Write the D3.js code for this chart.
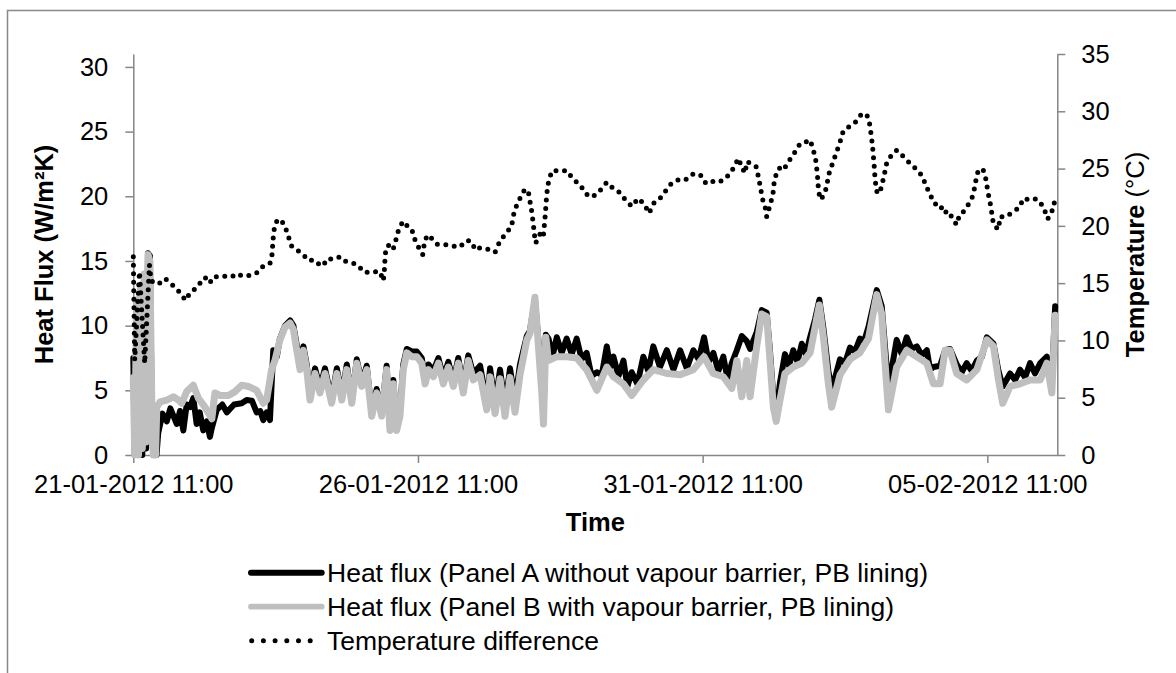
<!DOCTYPE html>
<html>
<head>
<meta charset="utf-8">
<script src="https://d3js.org/d3.v7.min.js"></script>
<style>
	body { margin: 0; background: #fff; }
	svg text { font-family: "Liberation Sans", Arial, sans-serif; fill: #000; }
</style>
</head>
<body>
<svg id="chart" width="1176" height="673"></svg>
<script>
// hours since 21-01-2012 11:00, value
const fluxPanelA = [
	[0, 7.5], [0.6, 0], [1.4, 11], [2.2, 0], [3, 12], [3.8, 0], [4.6, 13], [5.4, 0.5], [6.2, 15.6], [7, 15.4],
	[7.8, 3], [8.4, 0], [9.8, 0], [10.5, 1.7], [12.3, 3.2], [14.1, 2.6], [15.6, 3.6], [18.3, 2.4], [19.7, 3.4],
	[21.1, 1.9], [22.5, 3.9], [23.9, 3.7], [25.3, 4.4], [26.7, 2.4], [28, 3.3], [29.5, 1.9], [31, 2.6], [32.3, 1.4],
	[33.1, 2.1], [35.2, 3.5], [37.5, 3.9], [39.4, 3.3], [42.5, 3.9], [45.7, 4.0], [47.8, 4.25], [50, 4.2], [52, 3.3],
	[53.5, 3.4], [54.8, 2.7], [56.2, 3.3], [57.6, 2.7], [59, 8.1], [60.5, 7.6], [61.8, 9.0], [64, 10.0], [66.1, 10.4],
	[67.5, 10.0], [68.9, 8.5], [70.3, 6.9], [71.7, 8.4], [73.1, 7.0], [74.5, 4.5], [76.6, 6.7], [78.7, 5.2], [80.8, 6.7],
	[83.6, 4.3], [85.8, 6.7], [87.9, 4.6], [90, 7.0], [92.1, 4.3], [94.2, 7.4], [96.3, 5.6], [98.4, 6.9], [100.5, 3.3],
	[102.6, 5.1], [104.7, 3.3], [106.8, 6.9], [108.2, 2.2], [109.6, 5.8], [111, 2.2], [112.4, 3.3], [113.8, 7.0],
	[115.3, 8.2], [117.4, 8.0], [119.5, 8.0], [121.6, 7.5], [123, 5.9], [124.4, 7.0], [126.5, 6.5], [128.6, 7.5],
	[130.7, 6.0], [132.8, 7.2], [134.9, 5.7], [137, 7.5], [139.1, 5.3], [141.2, 7.7], [143.3, 6.3], [146.2, 6.9],
	[149, 4.0], [150.4, 6.7], [152.5, 4.0], [154.6, 6.6], [156.7, 3.8], [158.8, 6.7], [160.9, 4.2], [163, 7.0],
	[165.9, 9.2], [167.2, 9.6], [169.3, 12.0], [170.7, 9.0], [172.2, 5.5], [172.9, 3.0], [173.9, 9.3], [175, 9.0],
	[176.8, 7.7], [178.5, 9.1], [180.6, 7.9], [182.7, 9.0], [184.8, 7.8], [186.9, 9.0], [189, 7.4], [191.1, 7.9],
	[193.2, 6.1], [195.4, 6.4], [197.5, 6.2], [199.6, 8.4], [201, 6.8], [202.4, 7.6], [204.5, 6.1], [206.6, 7.3],
	[208.3, 5.3], [210.1, 6.4], [212.5, 5.5], [215, 7.6], [217.1, 6.5], [219.2, 8.4], [222, 6.8], [224.9, 8.1],
	[227.7, 6.6], [230.5, 8.1], [233.3, 6.7], [236.1, 8.1], [238.3, 7.4], [240.6, 9.1], [242.5, 7.2], [244.5, 7.9],
	[246.6, 6.5], [248.7, 7.6], [250.5, 5.9], [252.3, 7.1], [254.4, 8.1], [256.5, 9.2], [258.6, 8.8], [260, 8.2],
	[262.8, 9.5], [264.9, 11.2], [267, 11.0], [268.4, 8.0], [269.8, 4.5], [271, 3.2], [272.6, 5.6], [274.7, 7.8],
	[276.4, 6.9], [278.2, 8.1], [280, 7.2], [281.8, 8.6], [283.5, 7.8], [285.3, 9.1], [287.4, 10.5], [289.2, 12.0],
	[290.9, 9.8], [293, 6.5], [294.4, 5.0], [297.9, 7.4], [300, 7.1], [302.1, 8.3], [304.2, 8.0], [306.3, 9.0],
	[308.1, 8.8], [309.9, 9.9], [313.4, 12.75], [315.5, 11.5], [316.9, 8.3], [318.3, 5.2], [321.8, 8.9], [323.9, 7.8],
	[326, 9.1], [328.1, 8.2], [330.3, 8.4], [332.4, 7.7], [334.5, 8.1], [335.9, 6.6], [337.3, 6.8], [340.1, 6.9],
	[342.2, 8.1], [344.3, 8.2], [347.1, 7.0], [349.2, 6.4], [351.3, 7.1], [353.4, 6.5], [355.6, 7.3], [357.7, 7.6],
	[359.8, 9.1], [362.6, 8.6], [364.7, 6.5], [366.5, 5.3], [369.6, 6.3], [371.7, 5.8], [373.8, 6.6], [375.9, 6.0],
	[378, 7.1], [380.1, 6.3], [382.3, 7.1], [385.1, 7.6], [387.2, 5.5], [388.6, 11.5]
];

const fluxPanelB = [
	[0, 6], [0.6, 0], [1.4, 12], [2.2, 0], [3, 13], [3.8, 0.5], [4.6, 14], [5.4, 1], [6.2, 15.5], [7, 15],
	[7.8, 4], [8.4, 0], [9.4, 0], [9.9, 3.7], [11.3, 4.1], [14.1, 4.25], [16.9, 4.5], [19, 4.25], [20.4, 4.0],
	[22.5, 4.9], [25.3, 5.4], [27.4, 4.4], [30.2, 3.7], [33.1, 2.8], [34.4, 4.8], [36.6, 4.6], [40.1, 4.6],
	[42.9, 4.9], [45.7, 5.4], [48.5, 5.3], [52, 5.0], [54.8, 4.0], [56.2, 4.25], [58.3, 6.6], [59.7, 7.3],
	[61.8, 8.9], [64, 9.9], [66.1, 10.2], [67.5, 9.7], [68.9, 8.1], [70.3, 6.6], [71.7, 8.1], [73.1, 6.6],
	[74.5, 4.25], [76.6, 6.3], [78.7, 4.8], [80.8, 6.3], [83.6, 4.0], [85.8, 6.3], [87.9, 4.25], [90, 6.6],
	[92.1, 4.0], [94.2, 7.1], [96.3, 5.3], [98.4, 6.6], [100.5, 3.0], [102.6, 4.8], [104.7, 3.0], [106.8, 6.6],
	[108.2, 1.9], [109.6, 5.5], [111, 1.9], [112.4, 3.0], [113.8, 6.6], [115.3, 7.9], [117.4, 7.6], [119.5, 7.6],
	[121.6, 7.1], [123, 5.5], [124.4, 6.6], [126.5, 6.05], [128.6, 7.1], [130.7, 5.5], [132.8, 6.8], [134.9, 5.3],
	[137, 7.1], [139.1, 4.8], [141.2, 7.3], [143.3, 5.8], [146.2, 6.2], [149, 3.5], [150.4, 6.05], [152.5, 3.2],
	[154.6, 5.9], [156.7, 3.0], [158.8, 6.0], [160.9, 3.3], [163, 6.2], [165.9, 8.9], [167.2, 9.4], [169.3, 12.2],
	[170.7, 8.6], [172.2, 4.8], [172.9, 2.4], [173.9, 9.1], [175, 7.3], [178.5, 7.6], [182.7, 7.6], [186.9, 7.5],
	[191.1, 6.6], [195.4, 5.0], [199.6, 6.8], [202.4, 6.05], [206.6, 5.5], [210.1, 4.6], [215, 5.8], [219.2, 6.6],
	[224.9, 6.3], [230.5, 6.2], [236.1, 6.6], [240.6, 7.6], [244.5, 6.3], [248.7, 6.05], [252.3, 5.15], [254.4, 7.3],
	[256.5, 4.5], [258.6, 7.3], [260, 4.5], [262.8, 8.4], [264.9, 10.9], [267, 10.7], [268.4, 7.3], [269.8, 3.7],
	[271, 2.6], [272.6, 4.25], [274.7, 6.3], [278.2, 6.8], [281.8, 7.1], [285.3, 7.9], [287.4, 9.9], [289.2, 11.6],
	[290.9, 9.1], [293, 5.5], [294.4, 3.7], [297.9, 6.2], [302.1, 7.4], [306.3, 7.9], [309.9, 9.0], [313.4, 12.4],
	[315.5, 10.9], [316.9, 7.1], [318.3, 3.5], [321.8, 6.8], [326, 8.1], [330.3, 7.6], [334.5, 7.1], [337.3, 5.5],
	[340.1, 5.5], [342.2, 8.1], [344.3, 8.1], [347.1, 6.3], [351.3, 5.8], [355.6, 6.6], [359.8, 8.9], [362.6, 8.4],
	[364.7, 5.8], [366.5, 4.0], [369.6, 5.3], [373.8, 5.5], [378, 5.8], [382.3, 5.8], [385.1, 7.1], [387.2, 4.8],
	[388.6, 10.8]
];

const tempDifference = [
	[0, 17.3], [0.6, 8.3], [2.6, 16.0], [4.8, 8.0], [6.8, 16.6], [7.5, 15.2], [8.4, 15.1], [10.5, 14.9], [13.4, 15.4],
	[16.2, 14.9], [18.7, 14.4], [21.1, 13.8], [21.8, 13.5], [23.9, 14.1], [26, 14.5], [28.1, 15.0], [30.2, 15.5],
	[32.3, 15.0], [33.3, 15.5], [35.8, 15.6], [38.7, 15.6], [41.2, 15.7], [43.6, 15.5], [45, 15.7], [47.1, 15.6],
	[49.6, 15.7], [52, 15.9], [54.1, 16.4], [56.2, 16.6], [57.6, 16.7], [58.6, 17.6], [58.8, 18.6], [59.3, 19.6],
	[60, 20.3], [61.8, 20.6], [63.7, 20.1], [64.7, 19.5], [65.8, 18.8], [66.8, 18.2], [68.9, 17.9], [71.7, 17.5],
	[73.5, 17.0], [76.6, 17.0], [78, 16.7], [80.1, 16.5], [81.5, 17.1], [84.3, 17.1], [87.1, 17.3], [88.5, 17.0],
	[90.6, 16.8], [93.5, 16.7], [96.3, 16.2], [97.7, 15.9], [99.8, 16.0], [101.9, 16.0], [104, 16.0], [105.4, 15.2],
	[105.8, 16.0], [106.1, 17.1], [106.5, 18.1], [108.2, 18.4], [109.6, 18.0], [111, 19.0], [112, 19.8], [113.8, 20.4],
	[115.9, 19.9], [117.4, 19.7], [118.5, 18.9], [119.9, 18.3], [121.2, 17.7], [122, 17.5], [122.7, 18.5], [123.9, 19.2],
	[125.8, 18.9], [127.9, 18.4], [130, 18.4], [133.5, 18.3], [135.6, 18.2], [137, 18.4], [139.1, 18.3], [141.2, 18.7],
	[142.7, 18.6], [144.1, 17.9], [146.2, 18.1], [149, 18.0], [152.5, 17.7], [154.6, 18.7], [157.4, 19.4], [159.5, 20.0],
	[160.2, 20.9], [161.6, 21.8], [163.7, 22.7], [165.1, 23.2], [166.5, 23.0], [168, 21.2], [168.6, 20.2], [169.1, 19.2],
	[169.6, 18.5], [171.5, 19.3], [172.8, 19.0], [173.6, 20.8], [174.3, 22.8], [175, 23.8], [176.4, 24.8], [179.9, 24.8],
	[183, 24.8], [185.2, 24.1], [188.3, 23.6], [190.8, 22.8], [193.3, 22.5], [196, 22.9], [199.6, 23.8], [202.1, 23.3],
	[204.5, 23.0], [206.9, 22.4], [210.1, 21.7], [212.9, 22.4], [215.4, 21.9], [217.4, 21.1], [219.5, 22.0], [222, 22.4],
	[224.2, 23.0], [226.3, 23.6], [229.1, 24.0], [232.6, 24.0], [235.4, 24.5], [238.9, 24.5], [241.4, 23.7], [243.8, 23.9],
	[246.6, 23.8], [249.5, 24.1], [252.3, 24.8], [255.1, 25.9], [256.5, 25.1], [257.9, 24.6], [258.6, 25.6], [260.7, 25.4],
	[262.5, 25.2], [263.5, 24.3], [264.5, 23.2], [265.3, 22.3], [266.3, 21.7], [267, 20.8], [268.4, 21.8], [269.6, 22.7],
	[270.1, 23.7], [271.2, 24.7], [273.4, 25.3], [274.7, 25.1], [276.8, 25.8], [279.4, 26.6], [281.1, 27.2], [283.2, 27.3],
	[285.3, 27.5], [286.7, 26.6], [287.8, 25.6], [288.4, 24.4], [288.8, 23.2], [289.5, 22.3], [290.9, 22.6], [292.3, 23.4],
	[293, 24.4], [294.5, 25.3], [296.2, 26.3], [297.9, 27.3], [299.3, 28.3], [302.1, 28.7], [304.7, 29.1], [307.1, 29.8],
	[309.2, 29.7], [310.3, 29.0], [311, 28.0], [311.6, 27.0], [312, 26.0], [312.4, 25.0], [312.7, 24.0], [313.4, 23.0],
	[314.5, 22.8], [315.5, 23.5], [316.6, 24.5], [317.6, 25.5], [319.7, 26.2], [321.8, 26.6], [323.9, 26.2], [326.7, 25.6],
	[329.3, 25.1], [332.4, 24.4], [334.2, 23.5], [335.9, 22.7], [338, 21.9], [340.1, 21.9], [341.5, 21.1], [343.6, 21.3],
	[345.7, 20.5], [347.1, 20.1], [348.2, 20.9], [350.2, 21.3], [352.4, 22.0], [354.1, 22.7], [354.9, 23.7], [356, 24.7],
	[358.1, 25.0], [359.5, 24.0], [360.2, 23.0], [361.2, 22.0], [361.9, 21.1], [362.6, 20.1], [364.7, 19.7], [365.4, 20.8],
	[367.9, 20.8], [370.7, 21.2], [373.5, 21.6], [375.2, 22.4], [377.3, 22.3], [379.7, 22.4], [381.9, 22.2], [383.9, 21.5],
	[385.5, 20.6], [386.7, 21.2], [387.8, 21.4], [388.5, 22.4]
];

const startTime = new Date(2012, 0, 21, 11, 0);
const endHours = 389.5;
const xTickDays = [0, 5, 10, 15];
const fluxTicks = [0, 5, 10, 15, 20, 25, 30];
const tempTicks = [0, 5, 10, 15, 20, 25, 30, 35];
const legendLabels = [
	"Heat flux (Panel A without vapour barrier, PB lining)",
	"Heat flux (Panel B with vapour barrier, PB lining)",
	"Temperature difference"
];

const axisColor = "#868686";

function hoursToDate(h) {
	return new Date(startTime.getTime() + h * 3600 * 1000);
}

function drawChart() {
	var svg = d3.select("#chart");

	// outer chart border (runs off the picture on the right and bottom)
	svg.append("rect")
		.attr("x", 7.5).attr("y", 10.5)
		.attr("width", 1300).attr("height", 800)
		.attr("fill", "none")
		.attr("stroke", "#898989")
		.attr("stroke-width", 1.5);

	var left = 133.3, right = 1057.3, top = 54, bottom = 455;

	var x = d3.scaleTime()
		.domain([startTime, hoursToDate(endHours)])
		.range([left, right]);
	var yFlux = d3.scaleLinear().domain([0, 31]).range([bottom, top]);
	var yTemp = d3.scaleLinear().domain([0, 35]).range([bottom, top]);

	var xAxis = d3.axisBottom(x)
		.tickValues(xTickDays.map(d => d3.timeDay.offset(startTime, d)))
		.tickFormat(d3.timeFormat("%d-%m-%Y %H:%M"))
		.tickSize(8).tickSizeOuter(0).tickPadding(12);
	var leftAxis = d3.axisLeft(yFlux)
		.tickValues(fluxTicks).tickSize(8).tickSizeOuter(0).tickPadding(17);
	var rightAxis = d3.axisRight(yTemp)
		.tickValues(tempTicks).tickSize(8).tickSizeOuter(0).tickPadding(16);

	var gx = svg.append("g").attr("transform", "translate(0," + bottom + ")").call(xAxis);
	var gl = svg.append("g").attr("transform", "translate(" + left + ",0)").call(leftAxis);
	var gr = svg.append("g").attr("transform", "translate(" + right + ",0)").call(rightAxis);

	[gx, gl, gr].forEach(function (g) {
		g.select(".domain").attr("stroke", axisColor).attr("stroke-width", 1.5);
		g.selectAll(".tick line").attr("stroke", axisColor).attr("stroke-width", 1.5);
		g.selectAll(".tick text")
			.style("font-family", '"Liberation Sans", Arial, sans-serif')
			.style("font-size", "25.5px")
			.attr("fill", "#000");
	});

	// series
	var fluxLine = d3.line()
		.x(d => x(hoursToDate(d[0])))
		.y(d => yFlux(d[1]));
	var tempLine = d3.line()
		.x(d => x(hoursToDate(d[0])))
		.y(d => yTemp(d[1]));

	svg.append("path")
		.datum(fluxPanelA)
		.attr("d", fluxLine)
		.attr("fill", "none")
		.attr("stroke", "#000")
		.attr("stroke-width", 6)
		.attr("stroke-linejoin", "round")
		.attr("stroke-linecap", "round");

	svg.append("path")
		.datum(fluxPanelB)
		.attr("d", fluxLine)
		.attr("fill", "none")
		.attr("stroke", "#bfbfbf")
		.attr("stroke-width", 7)
		.attr("stroke-linejoin", "round")
		.attr("stroke-linecap", "round");

	svg.append("path")
		.datum(tempDifference)
		.attr("d", tempLine)
		.attr("fill", "none")
		.attr("stroke", "#000")
		.attr("stroke-width", 5)
		.attr("stroke-linecap", "round")
		.attr("stroke-dasharray", "0 8.5");

	// axis titles
	svg.append("text")
		.attr("transform", "translate(53," + ((top + bottom) / 2) + ") rotate(-90)")
		.attr("text-anchor", "middle")
		.style("font-size", "25.5px")
		.style("font-weight", "bold")
		.text("Heat Flux (W/m\u00B2K)");

	var tt = svg.append("text")
		.attr("transform", "translate(1144," + ((top + bottom) / 2) + ") rotate(-90)")
		.attr("text-anchor", "middle")
		.style("font-size", "25.5px");
	tt.append("tspan").style("font-weight", "bold").text("Temperature ");
	tt.append("tspan").text("(\u00B0C)");

	svg.append("text")
		.attr("x", (left + right) / 2)
		.attr("y", 531)
		.attr("text-anchor", "middle")
		.style("font-size", "25.5px")
		.style("font-weight", "bold")
		.text("Time");

	// legend
	var legend = svg.append("g").attr("class", "legend");
	var rowY = d3.scalePoint().domain(legendLabels).range([572.7, 640.7]);
	var styles = [
		{ stroke: "#000", width: 6, dash: null, x1: 251, x2: 321.7 },
		{ stroke: "#bfbfbf", width: 5.7, dash: null, x1: 251, x2: 321.7 },
		{ stroke: "#000", width: 5, dash: "0 11.7", x1: 251.7, x2: 312 }
	];
	legendLabels.forEach(function (label, i) {
		var s = styles[i];
		legend.append("line")
			.attr("x1", s.x1).attr("x2", s.x2)
			.attr("y1", rowY(label)).attr("y2", rowY(label))
			.attr("stroke", s.stroke)
			.attr("stroke-width", s.width)
			.attr("stroke-linecap", "round")
			.attr("stroke-dasharray", s.dash);
		legend.append("text")
			.attr("x", 327)
			.attr("y", rowY(label))
			.attr("dy", "0.35em")
			.style("font-size", "26.5px")
			.text(label);
	});
}

drawChart();
</script>
</body>
</html>
